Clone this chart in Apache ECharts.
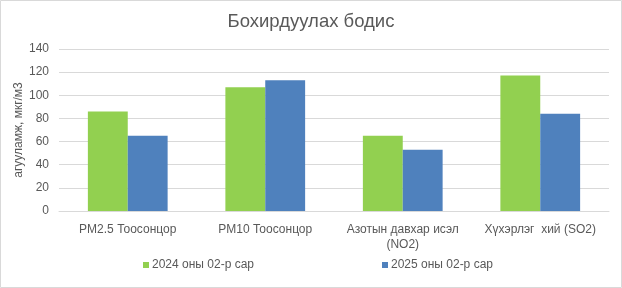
<!DOCTYPE html>
<html><head><meta charset="utf-8">
<script src="https://cdn.jsdelivr.net/npm/echarts@6/dist/echarts.min.js"></script>
<style>html,body{margin:0;padding:0;background:#fff}#c{width:622px;height:288px}</style>
</head><body><div id="c"></div>
<script>
const categories = ["PM2.5 Тоосонцор", "PM10 Тоосонцор", "Азотын давхар исэл\n(NO2)", "Хүхэрлэг  хий (SO2)"];
const series2024 = [86, 107, 65, 117];
const series2025 = [65, 113, 53, 84];
const seriesNames = ["2024 оны 02-р сар", "2025 оны 02-р сар"];
const yTicks = [0, 20, 40, 60, 80, 100, 120, 140];

const txt = '#595959';
const font = 'Liberation Sans, Arial, sans-serif';
const chart = echarts.init(document.getElementById('c'));
chart.setOption({
  animation: false,
  textStyle: {fontFamily: font},
  title: {text: 'Бохирдуулах бодис', left: 'center', top: 7,
    textStyle: {fontFamily: font, fontSize: 18.5, fontWeight: 'normal', color: txt}},
  graphic: [{type: 'rect', shape: {x: 0.5, y: 0.5, width: 621, height: 287},
    style: {fill: 'none', stroke: '#d9d9d9', lineWidth: 1}, silent: true}],
  grid: {left: 59, right: 13, top: 49, bottom: 77},
  legend: {top: 259, left: 143, padding: 0, itemWidth: 6, itemHeight: 6, itemGap: 128,
    icon: 'rect', textStyle: {fontFamily: font, fontSize: 12, color: txt, padding: [0, 0, 0, -2]},
    data: seriesNames},
  xAxis: {type: 'category', data: categories,
    axisLine: {lineStyle: {color: '#d9d9d9'}}, axisTick: {show: false},
    axisLabel: {color: txt, fontSize: 12, margin: 11, lineHeight: 15, interval: 0, fontFamily: font}},
  yAxis: {type: 'value', min: yTicks[0], max: yTicks[yTicks.length - 1], interval: 20,
    name: 'агууламж, мкг/м3', nameLocation: 'middle', nameGap: 34, nameRotate: 90,
    nameMoveOverlap: false,
    nameTextStyle: {color: txt, fontSize: 12, fontFamily: font},
    axisLabel: {color: txt, fontSize: 12, margin: 10, fontFamily: font},
    axisLine: {show: false}, axisTick: {show: false},
    splitLine: {lineStyle: {color: '#d9d9d9'}}},
  series: [
    {name: seriesNames[0], type: 'bar', data: series2024, barGap: '0%', barCategoryGap: '42%',
      itemStyle: {color: '#92D050'}},
    {name: seriesNames[1], type: 'bar', data: series2025, barGap: '0%', barCategoryGap: '42%',
      itemStyle: {color: '#4F81BD'}}
  ]
});
</script></body></html>
